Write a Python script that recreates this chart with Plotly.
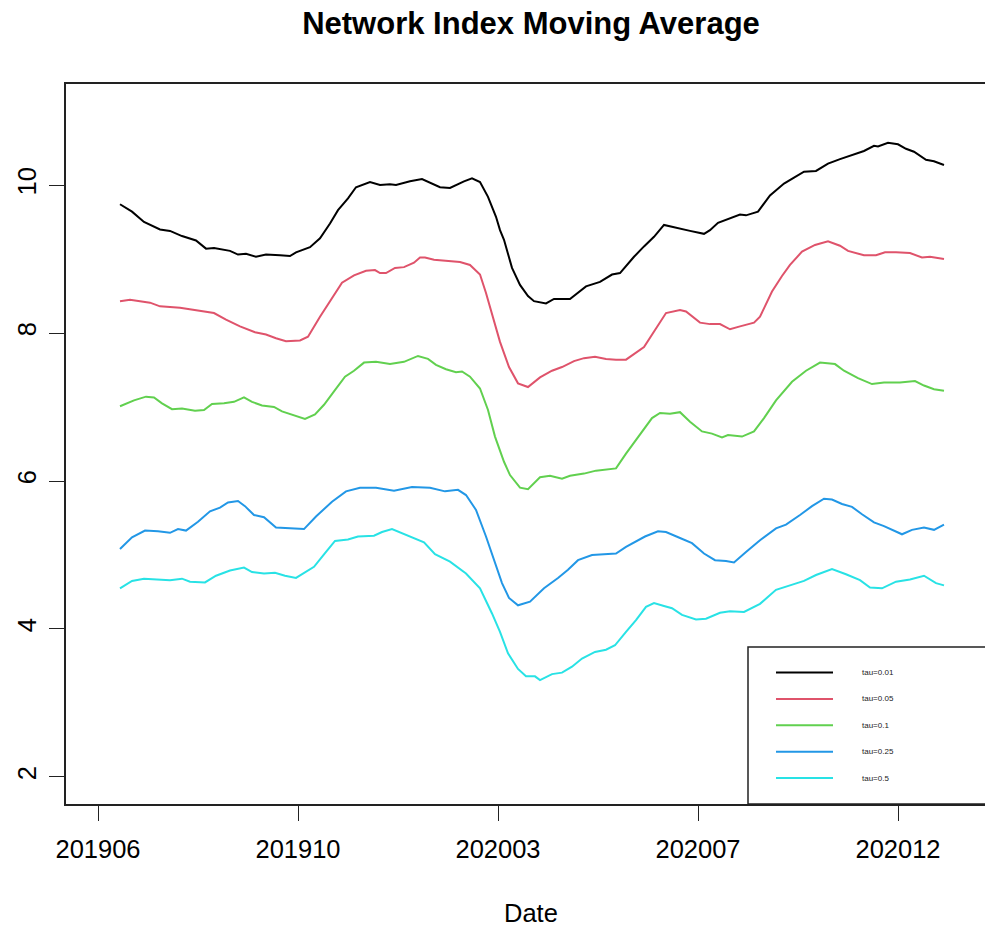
import plotly.graph_objects as go

# ---- data (x = observation index, y = moving-average value) ----
tick_positions = [0, 100, 200, 300, 400]
tick_labels = ["201906", "201910", "202003", "202007", "202012"]
y_ticks = [2, 4, 6, 8, 10]

series_names = ["tau=0.01", "tau=0.05", "tau=0.1", "tau=0.25", "tau=0.5"]
series_colors = ["#000000", "#DF536B", "#61D04F", "#2297E6", "#28E2E5"]

tau_001 = [(11, 9.74), (17, 9.64), (23, 9.50), (31, 9.40), (36, 9.38), (42, 9.31), (49, 9.25),
           (54, 9.14), (58, 9.15), (66, 9.11), (70, 9.06), (74, 9.07), (79, 9.03), (84, 9.06),
           (91, 9.05), (96, 9.04), (99, 9.09), (106, 9.16), (111, 9.28), (116, 9.48), (120, 9.66),
           (125, 9.82), (129, 9.97), (136, 10.04), (141, 10.00), (146, 10.01), (149, 10.00),
           (156, 10.05), (162, 10.08), (168, 10.01), (171, 9.97), (176, 9.96), (183, 10.05),
           (187, 10.09), (191, 10.04), (195, 9.84), (199, 9.57), (201, 9.39), (203, 9.26),
           (207, 8.88), (211, 8.65), (215, 8.50), (218, 8.43), (224, 8.40), (228, 8.46),
           (236, 8.46), (244, 8.63), (251, 8.69), (257, 8.79), (261, 8.81), (268, 9.03),
           (273, 9.17), (278, 9.30), (283, 9.46), (289, 9.42), (296, 9.38), (303, 9.34),
           (306, 9.39), (310, 9.49), (316, 9.55), (321, 9.60), (324, 9.59), (330, 9.64),
           (336, 9.86), (343, 10.02), (348, 10.10), (353, 10.18), (359, 10.19), (365, 10.29),
           (371, 10.35), (378, 10.42), (383, 10.46), (388, 10.53), (390, 10.52), (395, 10.57),
           (400, 10.55), (404, 10.49), (408, 10.45), (414, 10.34), (418, 10.32), (423, 10.27)]

tau_005 = [(11, 8.43), (16, 8.45), (26, 8.41), (31, 8.36), (41, 8.34), (49, 8.31), (58, 8.27),
           (64, 8.18), (71, 8.09), (78.5, 8.01), (84, 7.98), (89, 7.93), (94, 7.89), (101, 7.90),
           (105, 7.95), (111, 8.22), (117, 8.47), (122, 8.68), (128, 8.78), (134, 8.84),
           (138.5, 8.85), (141, 8.81), (144, 8.81), (148.5, 8.88), (153, 8.89), (158, 8.95),
           (161, 9.02), (163.5, 9.02), (168, 8.99), (174, 8.98), (181, 8.96), (186, 8.92),
           (191, 8.79), (194, 8.54), (198, 8.18), (201, 7.88), (205.5, 7.54), (210, 7.32),
           (215, 7.27), (221, 7.40), (227, 7.49), (232, 7.54), (238, 7.62), (243, 7.66),
           (248.5, 7.68), (254, 7.65), (259, 7.64), (264, 7.64), (273, 7.81), (278.5, 8.04),
           (284, 8.27), (291, 8.31), (294, 8.29), (301, 8.14), (306, 8.12), (311, 8.12),
           (316, 8.05), (321, 8.09), (328, 8.14), (331, 8.22), (337, 8.56), (342, 8.77),
           (346, 8.92), (352, 9.10), (358.5, 9.19), (365, 9.24), (371, 9.18), (375, 9.11),
           (383, 9.05), (389, 9.05), (393.5, 9.09), (399, 9.09), (406, 9.08), (412, 9.02),
           (416, 9.03), (423, 9.00)]

tau_01 = [(11, 7.01), (18, 7.09), (24, 7.14), (28, 7.13), (32, 7.05), (37, 6.97), (42, 6.98),
          (48.5, 6.95), (53, 6.96), (57, 7.04), (63, 7.05), (68, 7.07), (73, 7.13), (77, 7.07),
          (82, 7.02), (88, 7.00), (92, 6.94), (98, 6.89), (103.5, 6.84), (108.5, 6.90),
          (113, 7.03), (118, 7.21), (123.5, 7.41), (128, 7.49), (133, 7.60), (139, 7.61),
          (146, 7.58), (153, 7.61), (160, 7.69), (165, 7.65), (169, 7.57), (174, 7.51),
          (179, 7.47), (182, 7.48), (186, 7.41), (191, 7.25), (195, 6.96), (198.5, 6.60),
          (201, 6.42), (203, 6.26), (206, 6.08), (211, 5.91), (215, 5.89), (221, 6.05),
          (226, 6.07), (232, 6.03), (236, 6.07), (243, 6.10), (249, 6.14), (254, 6.15),
          (259, 6.17), (264, 6.37), (271, 6.62), (277, 6.85), (281, 6.92), (286, 6.91),
          (291, 6.93), (296, 6.80), (302, 6.67), (307, 6.64), (312, 6.59), (315, 6.62),
          (322, 6.60), (328, 6.67), (333, 6.85), (339, 7.09), (347, 7.34), (354, 7.49),
          (361, 7.60), (368.5, 7.58), (373, 7.49), (380, 7.39), (387, 7.31), (393, 7.33),
          (401, 7.33), (408.5, 7.35), (413, 7.29), (418, 7.24), (423, 7.22)]

tau_025 = [(11, 5.08), (17, 5.24), (23.5, 5.33), (30, 5.32), (36, 5.30), (40, 5.35), (44, 5.33),
           (50, 5.45), (56, 5.59), (61, 5.64), (65, 5.71), (70, 5.73), (73.5, 5.66), (78, 5.54),
           (83, 5.51), (89, 5.37), (96, 5.36), (103, 5.35), (109, 5.52), (117, 5.72), (124, 5.86),
           (131, 5.91), (139, 5.91), (148, 5.87), (157, 5.92), (166, 5.91), (173.5, 5.86),
           (180, 5.88), (184, 5.81), (189, 5.61), (194, 5.25), (198.5, 4.89), (201, 4.71),
           (202, 4.62), (205.5, 4.42), (210, 4.32), (216, 4.37), (223, 4.55), (230, 4.69),
           (235, 4.80), (240, 4.93), (247, 5.00), (253, 5.01), (259, 5.02), (264, 5.11),
           (273.5, 5.25), (280, 5.32), (284, 5.31), (291, 5.23), (297, 5.16), (303, 5.02),
           (308.5, 4.93), (314, 4.92), (318, 4.90), (324, 5.04), (331, 5.20), (339, 5.36),
           (344, 5.41), (351, 5.54), (357, 5.66), (363, 5.76), (367, 5.75), (372, 5.69),
           (377, 5.65), (382, 5.55), (388, 5.44), (393, 5.39), (398, 5.33), (402, 5.28),
           (407, 5.34), (413, 5.37), (418, 5.34), (423, 5.41)]

tau_05 = [(11, 4.55), (17, 4.65), (23, 4.68), (29, 4.67), (36, 4.66), (42, 4.68), (46, 4.64),
          (53.5, 4.63), (59, 4.72), (66, 4.79), (73, 4.83), (77, 4.77), (83, 4.75), (88.5, 4.76),
          (93.5, 4.72), (99, 4.69), (108, 4.84), (113, 5.01), (118.5, 5.19), (125, 5.21),
          (130, 5.25), (138, 5.26), (142, 5.31), (147, 5.35), (156, 5.25), (163, 5.17),
          (168.5, 5.01), (176, 4.91), (184, 4.75), (191, 4.55), (197, 4.21), (201, 3.96),
          (205, 3.67), (210, 3.46), (214, 3.36), (218.5, 3.36), (221, 3.31), (227, 3.39),
          (232, 3.41), (237, 3.49), (242, 3.60), (248.5, 3.69), (254, 3.72), (258.5, 3.78),
          (264, 3.96), (269, 4.12), (274, 4.30), (278, 4.35), (283, 4.31), (287, 4.28),
          (292, 4.19), (299, 4.13), (304, 4.14), (311, 4.22), (316, 4.24), (323, 4.23),
          (331, 4.34), (339, 4.53), (346, 4.59), (353, 4.65), (359, 4.73), (367, 4.81),
          (374, 4.74), (381, 4.66), (386, 4.56), (392, 4.55), (399, 4.64), (406, 4.67),
          (413, 4.72), (419, 4.62), (423, 4.59)]

all_series = [tau_001, tau_005, tau_01, tau_025, tau_05]

FONT = "Liberation Sans, Arial, Helvetica, sans-serif"
AX = "#222222"

fig = go.Figure()
for name, color, pts in zip(series_names, series_colors, all_series):
    xs = [p[0] for p in pts]
    ys = [p[1] for p in pts]
    fig.add_trace(go.Scatter(x=xs, y=ys, mode="lines", name=name,
                             line=dict(color=color, width=2), showlegend=False))

# page body has an 8px default margin -> figure is drawn 8px right/down
OFF = 8
W, H = 993 - OFF, 929 - OFF
ML, MR, MT, MB = 66 - OFF, 0, 84 - OFF, 125
PW, PH = W - ML - MR, H - MT - MB

def px_x(px):
    return (px - OFF - ML) / PW

def px_y(py):
    return (H - MB - (py - OFF)) / PH

shapes = []
annotations = []

# legend box (manual, R-style)
shapes.append(dict(type="rect", xref="paper", yref="paper",
                   x0=px_x(748), x1=1.05, y0=0, y1=px_y(647),
                   line=dict(color=AX, width=1.5), fillcolor="white", layer="above"))
for i, (name, color) in enumerate(zip(series_names, series_colors)):
    yy = px_y(672.5 + i * 26.4)
    shapes.append(dict(type="line", xref="paper", yref="paper",
                       x0=px_x(776), x1=px_x(833), y0=yy, y1=yy,
                       line=dict(color=color, width=2), layer="above"))
    annotations.append(dict(xref="paper", yref="paper", x=px_x(860), y=yy,
                            xanchor="left", yanchor="middle", text=name, showarrow=False,
                            font=dict(family=FONT, size=8, color="#222")))

# x-axis title
annotations.append(dict(xref="paper", yref="paper", x=px_x(531), y=px_y(913),
                        xanchor="center", yanchor="middle", text="Date", showarrow=False,
                        font=dict(family=FONT, size=25.5, color="black")))

fig.update_layout(
    width=W, height=H,
    margin=dict(l=ML, r=MR, t=MT, b=MB, pad=0),
    paper_bgcolor="white", plot_bgcolor="white",
    title=dict(text="<b>Network Index Moving Average</b>", xref="paper", x=px_x(531),
               xanchor="center", yref="container", y=1 - (23 - OFF) / H, yanchor="middle",
               font=dict(family=FONT, size=31, color="black")),
    shapes=shapes, annotations=annotations,
    xaxis=dict(range=[-16, (993 - 98) / 2], tickmode="array", tickvals=tick_positions,
               ticktext=tick_labels, ticks="outside", ticklen=15, tickwidth=1.3,
               tickcolor=AX, showline=True, linecolor=AX, linewidth=1.5, mirror=True,
               showgrid=False, zeroline=False, ticklabelstandoff=7,
               tickfont=dict(family=FONT, size=25.5, color="black")),
    yaxis=dict(range=[1.635, 11.365], tickmode="array", tickvals=y_ticks,
               ticks="outside", ticklen=15, tickwidth=1.3, tickcolor=AX,
               showline=True, linecolor=AX, linewidth=1.5, showgrid=False,
               zeroline=False, tickangle=-90, ticklabelstandoff=3,
               tickfont=dict(family=FONT, size=25.5, color="black")),
)

fig.write_html("out.html")
